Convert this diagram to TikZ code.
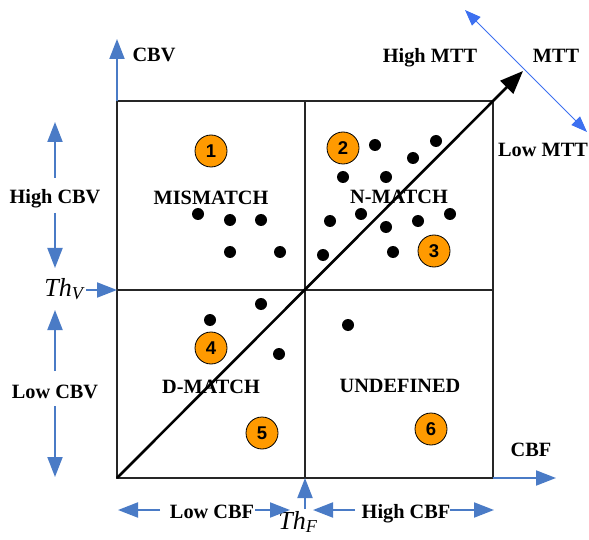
\documentclass[tikz,border=0pt]{standalone}
\usepackage{fontspec}
\setmainfont{Liberation Serif}
\newfontfamily\digitfont{Liberation Sans}
\usetikzlibrary{arrows.meta}
\definecolor{axisblue}{HTML}{4A7BC6}
\definecolor{mttblue}{HTML}{3D70F0}
\definecolor{badgeorange}{HTML}{FF9A00}

\tikzset{
  grid/.style={draw=black!85, line width=1.2pt},
  bluearrow/.style={draw=axisblue, line width=2pt, -{Triangle[length=20pt,width=15pt]}},
  mttarrow/.style={draw=mttblue, line width=1pt, {Triangle[length=16pt,width=12pt]}-{Triangle[length=16pt,width=12pt]}},
  diagarrow/.style={draw=black, line width=2.6pt, -{Triangle[length=23pt,width=18pt]}},
  lbl/.style={font=\fontsize{20.3}{24}\selectfont\bfseries, inner sep=0pt, anchor=base},
  thlbl/.style={font=\fontsize{26}{30}\selectfont\itshape, inner sep=0pt, anchor=base},
  dot/.style={circle, fill=black, inner sep=0pt, minimum size=12pt},
  badge/.style={circle, draw=black, line width=0.8pt, fill=badgeorange, inner sep=0pt,
    minimum size=32pt, font=\digitfont\fontsize{18.5}{22}\selectfont\bfseries}
}

\begin{document}
\begin{tikzpicture}[x=1pt, y=-1pt]
\useasboundingbox (0,0) rectangle (589,540);

% quadrant grid
\coordinate (O) at (117,478);
\coordinate (TL) at (117,101);
\coordinate (BR) at (493,478);
\coordinate (TR) at (493,101);
\coordinate (MT) at (305,101);
\coordinate (MB) at (305,478);
\coordinate (ML) at (117,290);
\coordinate (MR) at (493,290);
\draw[grid] (TL) rectangle (BR);
\draw[grid] (MT) -- (MB);
\draw[grid] (ML) -- (MR);

% axes
\coordinate (cbvtip) at (117,39);
\coordinate (cbftip) at (556,478);
\draw[bluearrow] (TL) -- (cbvtip);
\draw[bluearrow] (BR) -- (cbftip);
\node[lbl] (cbv) at (154,62) {CBV};
\node[lbl] (cbf) at (531,456) {CBF};

% thresholds
\node[thlbl] (thv) at (64,296) {Th\textsubscript{V}};
\node[thlbl] (thf) at (298,529) {Th\textsubscript{F}};
\coordinate (thvstart) at (86,290);
\coordinate (thfstart) at (305,509);
\draw[bluearrow] (thvstart) -- (ML);
\draw[bluearrow] (thfstart) -- (MB);

% CBV ranges
\node[lbl] (highcbv) at (55,204) {High CBV};
\node[lbl] (lowcbv) at (55,398) {Low CBV};
\coordinate (hcbvA) at (55,178);
\coordinate (hcbvB) at (55,122);
\coordinate (hcbvC) at (55,213);
\coordinate (hcbvD) at (55,268);
\coordinate (lcbvA) at (55,371);
\coordinate (lcbvB) at (55,310);
\coordinate (lcbvC) at (55,406);
\coordinate (lcbvD) at (55,477);
\draw[bluearrow] (hcbvA) -- (hcbvB);
\draw[bluearrow] (hcbvC) -- (hcbvD);
\draw[bluearrow] (lcbvA) -- (lcbvB);
\draw[bluearrow] (lcbvC) -- (lcbvD);

% CBF ranges
\node[lbl] (lowcbf) at (212,518) {Low CBF};
\node[lbl] (highcbf) at (406,518) {High CBF};
\coordinate (lcbfA) at (160,510);
\coordinate (lcbfB) at (118,510);
\coordinate (lcbfC) at (255,510);
\coordinate (lcbfD) at (290,510);
\coordinate (hcbfA) at (355,510);
\coordinate (hcbfB) at (313,510);
\coordinate (hcbfC) at (450,510);
\coordinate (hcbfD) at (494,510);
\draw[bluearrow] (lcbfA) -- (lcbfB);
\draw[bluearrow] (lcbfC) -- (lcbfD);
\draw[bluearrow] (hcbfA) -- (hcbfB);
\draw[bluearrow] (hcbfC) -- (hcbfD);

% MTT axis
\coordinate (mttA) at (465,10);
\coordinate (mttB) at (587,132);
\coordinate (mtttip) at (523,71);
\draw[mttarrow] (mttA) -- (mttB);
\draw[diagarrow] (O) -- (mtttip);
\node[lbl] (highmtt) at (430,63) {High MTT};
\node[lbl] (mtt) at (556,63) {MTT};
\node[lbl] (lowmtt) at (543,157) {Low MTT};

% quadrant names
\node[lbl] (mismatch) at (211,205) {MISMATCH};
\node[lbl] (nmatch) at (399,204) {N-MATCH};
\node[lbl] (dmatch) at (211,393) {D-MATCH};
\node[lbl] (undef) at (400,392) {UNDEFINED};

% numbered badges
\node[badge] (b1) at (211,151) {1};
\node[badge] (b2) at (343,148) {2};
\node[badge] (b3) at (434,251) {3};
\node[badge] (b4) at (211,348) {4};
\node[badge] (b5) at (262,433) {5};
\node[badge] (b6) at (431,429) {6};

% data points
\foreach \px/\py [count=\i] in {
  198/214, 230/220, 261/220, 230/252, 280/252,
  375/145, 436/141, 413/158, 343/177, 386/177,
  361/214, 330/221, 418/221, 450/214, 386/227, 393/252, 323/255,
  210/320, 261/304, 279/354, 348/325}
  \node[dot] (p\i) at (\px,\py) {};
\end{tikzpicture}
\end{document}
